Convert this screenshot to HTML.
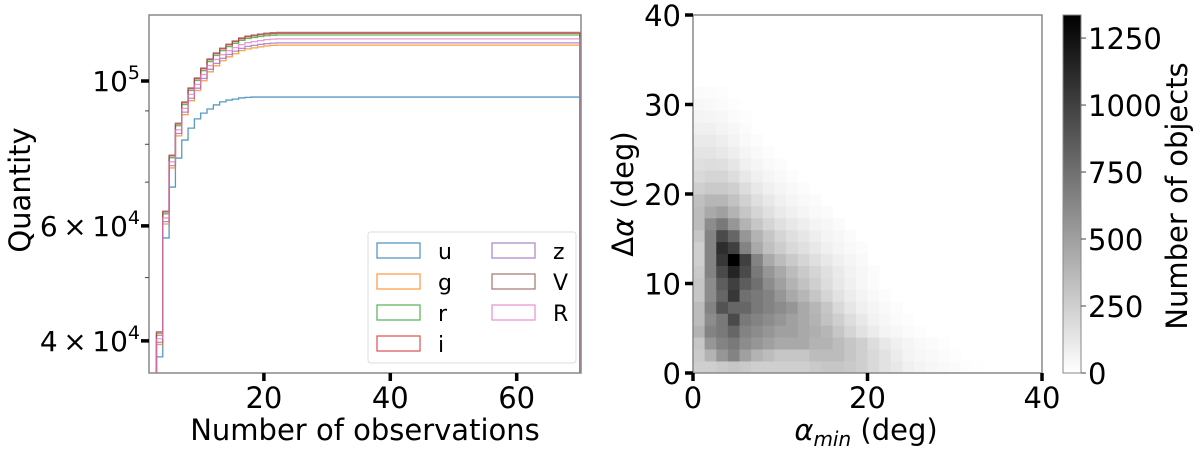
<!DOCTYPE html>
<html><head><meta charset="utf-8"><style>
html,body{margin:0;padding:0;background:#fff;width:1200px;height:451px;overflow:hidden}
svg{display:block;font-family:"DejaVu Sans","Liberation Sans",sans-serif;overflow:hidden}
</style></head><body>
<svg id="fig" width="1200" height="451" viewBox="0 0 1200 451">
<defs>
<clipPath id="clipL"><rect x="149" y="15" width="432" height="358"/></clipPath>
<linearGradient id="cbgrad" x1="0" y1="1" x2="0" y2="0"><stop offset="0" stop-color="#fff"/><stop offset="1" stop-color="#000"/></linearGradient>
</defs>
<g id="left">
<g id="hists" clip-path="url(#clipL)"></g>
<rect x="149" y="15" width="432" height="358" fill="none" stroke="#888" stroke-width="1.5"/>
<g id="lticks"></g>
<text x="30" y="190" font-size="29" text-anchor="middle" transform="rotate(-90 30 190)">Quantity</text>
<text x="365" y="440" font-size="29" text-anchor="middle">Number of observations</text>
<g>
<rect x="368" y="232" width="208" height="131" rx="3" fill="#fff" fill-opacity="0.8" stroke="#ddd" stroke-width="1"/>
<g id="legend"></g>
</g>
</g>
<g id="right">
<g id="cells"></g>
<rect x="693" y="15" width="349" height="358" fill="none" stroke="#888" stroke-width="1.5"/>
<g id="rticks"></g>
<text x="633" y="194" font-size="29" text-anchor="middle" transform="rotate(-90 633 194)">Δ<tspan font-style="italic">α</tspan> (deg)</text>
<text x="866" y="440" font-size="29" text-anchor="middle"><tspan font-style="italic">α</tspan><tspan font-style="italic" font-size="20" dy="6">min</tspan><tspan dy="-6"> (deg)</tspan></text>
<rect x="1063" y="15" width="18" height="358" fill="url(#cbgrad)" stroke="#888" stroke-width="1"/>
<g id="cbticks"></g>
<text x="1187" y="196" font-size="29" text-anchor="middle" transform="rotate(-90 1187 196)">Number of objects</text>
</g>
</svg>
<script>
const NS="http://www.w3.org/2000/svg";
// ---- left chart data (values in thousands; bins start at n=3, width 1) ----
const binStart=3;
const seriesNames=["u","g","r","i","z","V","R"];
const seriesColors=["#1f77b4","#ff7f0e","#2ca02c","#d62728","#9467bd","#8c564b","#e377c2"];
const serU=[37.8,57.5,68.8,76.2,81.2,84.7,87.5,89.3,90.6,91.9,92.9,93.5,93.8,94.2,94.4,94.5,94.5,94.5,94.5,94.5,94.5,94.5,94.5,94.5,94.5,94.5,94.5,94.5,94.5,94.5,94.5,94.5,94.5,94.5,94.5,94.5,94.5,94.5,94.5,94.5,94.5,94.5,94.5,94.5,94.5,94.5,94.5,94.5,94.5,94.5,94.5,94.5,94.5,94.5,94.5,94.5,94.5,94.5,94.5,94.5,94.5,94.5,94.5,94.5,94.5,94.5,94.5];
const serG=[39.5,60.4,73.6,82.4,88.8,93.3,96.7,100.1,103.3,105.5,107.4,108.9,110.1,111.3,112.0,112.4,112.8,113.2,113.4,113.5,113.5,113.5,113.5,113.5,113.5,113.5,113.5,113.5,113.5,113.5,113.5,113.5,113.5,113.5,113.5,113.5,113.5,113.5,113.5,113.5,113.5,113.5,113.5,113.5,113.5,113.5,113.5,113.5,113.5,113.5,113.5,113.5,113.5,113.5,113.5,113.5,113.5,113.5,113.5,113.5,113.5,113.5,113.5,113.5,113.5,113.5,113.5];
const serR=[40.8,62.6,76.3,85.4,92.0,96.7,100.2,103.7,107.1,109.4,111.3,112.9,114.2,115.4,116.2,116.6,117.0,117.3,117.5,117.6,117.6,117.6,117.6,117.6,117.6,117.6,117.6,117.6,117.6,117.6,117.6,117.6,117.6,117.6,117.6,117.6,117.6,117.6,117.6,117.6,117.6,117.6,117.6,117.6,117.6,117.6,117.6,117.6,117.6,117.6,117.6,117.6,117.6,117.6,117.6,117.6,117.6,117.6,117.6,117.6,117.6,117.6,117.6,117.6,117.6,117.6,117.6];
const serI=[41.1,63.0,76.8,85.9,92.6,97.3,100.8,104.4,107.8,110.1,112.0,113.6,114.9,116.1,116.9,117.3,117.7,118.0,118.2,118.3,118.3,118.3,118.3,118.3,118.3,118.3,118.3,118.3,118.3,118.3,118.3,118.3,118.3,118.3,118.3,118.3,118.3,118.3,118.3,118.3,118.3,118.3,118.3,118.3,118.3,118.3,118.3,118.3,118.3,118.3,118.3,118.3,118.3,118.3,118.3,118.3,118.3,118.3,118.3,118.3,118.3,118.3,118.3,118.3,118.3,118.3,118.3];
const serZ=[39.8,60.9,74.2,83.1,89.6,94.1,97.5,100.9,104.2,106.4,108.3,109.8,111.1,112.2,113.0,113.4,113.8,114.1,114.3,114.4,114.4,114.4,114.4,114.4,114.4,114.4,114.4,114.4,114.4,114.4,114.4,114.4,114.4,114.4,114.4,114.4,114.4,114.4,114.4,114.4,114.4,114.4,114.4,114.4,114.4,114.4,114.4,114.4,114.4,114.4,114.4,114.4,114.4,114.4,114.4,114.4,114.4,114.4,114.4,114.4,114.4,114.4,114.4,114.4,114.4,114.4,114.4];
const serV=[41.3,63.2,77.0,86.2,92.9,97.6,101.1,104.7,108.1,110.4,112.3,113.9,115.2,116.4,117.2,117.6,118.0,118.4,118.6,118.7,118.7,118.7,118.7,118.7,118.7,118.7,118.7,118.7,118.7,118.7,118.7,118.7,118.7,118.7,118.7,118.7,118.7,118.7,118.7,118.7,118.7,118.7,118.7,118.7,118.7,118.7,118.7,118.7,118.7,118.7,118.7,118.7,118.7,118.7,118.7,118.7,118.7,118.7,118.7,118.7,118.7,118.7,118.7,118.7,118.7,118.7,118.7];
const serRR=[40.3,61.7,75.2,84.2,90.8,95.4,98.8,102.3,105.6,107.9,109.7,111.3,112.5,113.7,114.5,114.9,115.3,115.7,115.9,116.0,116.0,116.0,116.0,116.0,116.0,116.0,116.0,116.0,116.0,116.0,116.0,116.0,116.0,116.0,116.0,116.0,116.0,116.0,116.0,116.0,116.0,116.0,116.0,116.0,116.0,116.0,116.0,116.0,116.0,116.0,116.0,116.0,116.0,116.0,116.0,116.0,116.0,116.0,116.0,116.0,116.0,116.0,116.0,116.0,116.0,116.0,116.0];
const xTicksL=[20,40,60];
const yMajorL=[{v:100,t:"10",e:"5",m:""},{v:60,t:"10",e:"4",m:"6\u2009×\u200910"},{v:40,t:"10",e:"4",m:"4\u2009×\u200910"}];
const yMinorL=[50,70,80,90];
// ---- right chart data: heatmap counts, rows from Δα=0 upward, cols from αmin=0 ----
const binDeg=40/30;
const heat=[
[250,250,280,300,280,250,250,250,250,250,280,300,300,280,250,200,150,120,80,60,40,30,20,10,5],
[280,400,550,650,500,400,350,300,300,300,350,350,350,300,250,200,150,100,60,40,30,20,10],
[300,550,650,700,600,550,500,450,450,450,400,400,350,300,250,180,120,80,50,30,20,10],
[400,650,700,800,650,600,550,500,500,450,420,380,300,220,150,100,60,40,20,10],
[350,600,700,950,700,650,600,550,500,450,400,320,250,180,120,70,40,20,10],
[350,650,900,800,800,700,650,600,550,450,380,300,200,130,80,50,30,15],
[300,600,800,1050,750,700,650,550,450,380,300,220,150,100,60,30,15],
[300,600,850,1000,850,750,600,500,400,320,250,180,120,80,40,20],
[280,650,950,1150,950,700,550,450,350,280,220,160,110,70,40,20],
[250,650,1050,1336,1000,650,450,350,280,220,170,120,80,50,30],
[250,650,1100,1000,650,450,330,260,200,160,120,80,50,30,15],
[300,650,950,800,550,400,300,220,170,130,90,60,40,20],
[350,600,700,550,400,300,220,160,120,90,60,40,20],
[350,450,500,400,300,220,160,110,80,50,30,20],
[330,380,380,320,240,170,120,80,50,30,20],
[250,280,280,250,180,120,80,50,30,15],
[200,220,220,180,120,80,50,30,15],
[170,180,170,130,80,50,30,15],
[140,140,120,90,50,30,15],
[110,110,90,60,30,15],
[80,80,60,40,20],
[60,50,40,20,10],
[40,30,20,10],
[20,15,10]];
const vmax=1336;
const xTicksR=[0,20,40];
const yTicksR=[0,10,20,30,40];
const cbTicks=[0,250,500,750,1000,1250];

function el(tag,attrs,parent){const e=document.createElementNS(NS,tag);for(const k in attrs)e.setAttribute(k,attrs[k]);parent.appendChild(e);return e;}
// left axes
const xL=v=>137.5+v*6.32;
const yL=v=>81-Math.log10(v/100)*653;
const allSeries=[serU,serG,serR,serI,serZ,serV,serRR];
const hg=document.getElementById('hists');
allSeries.forEach((s,i)=>{
  let d="M"+xL(binStart)+","+yL(1);
  s.forEach((v,j)=>{const y=yL(v);d+=" L"+xL(binStart+j)+","+y+" L"+xL(binStart+j+1)+","+y;});
  d+=" L"+xL(binStart+s.length)+","+yL(1);
  const p=el('path',{d:d,fill:"none",stroke:seriesColors[i],"stroke-width":1.3,"stroke-opacity":0.75},hg);
  
  
});
const lt=document.getElementById('lticks');
xTicksL.forEach(v=>{
  el('line',{x1:xL(v),x2:xL(v),y1:373,y2:381,stroke:"#000","stroke-width":3.5},lt);
  const t=el('text',{x:xL(v),y:408,"font-size":29,"text-anchor":"middle"},lt);t.textContent=v;
  
  
});
yMajorL.forEach(o=>{
  const y=yL(o.v);
  el('line',{x1:141,x2:149,y1:y,y2:y,stroke:"#000","stroke-width":3.5},lt);
  const t=el('text',{x:140,y:y+10,"font-size":28,"text-anchor":"end"},lt);
  
  
  const a=document.createElementNS(NS,'tspan');a.textContent=o.m?o.m:o.t;t.appendChild(a);
  const b=document.createElementNS(NS,'tspan');b.setAttribute('dy','-12');b.setAttribute('font-size','19');b.textContent=o.e;t.appendChild(b);
});
yMinorL.forEach(v=>{const y=yL(v);el('line',{x1:145,x2:149,y1:y,y2:y,stroke:"#444","stroke-width":1},lt);});
// legend
const lg=document.getElementById('legend');
seriesNames.forEach((n,i)=>{
  const col=i<4?0:1,row=i<4?i:i-4;
  const x=377+col*115,y=243+row*31;
  const r=el('rect',{x:x,y:y,width:43,height:15,fill:"none",stroke:seriesColors[i],"stroke-width":1.3,"stroke-opacity":0.75},lg);
  
  
  const t=el('text',{x:x+61,y:y+16,"font-size":22},lg);t.textContent=n;
  
  
});
// right axes
const xR=v=>693+v*8.725;
const yR=v=>373-v*8.95;
const cg=document.getElementById('cells');
heat.forEach((row,ri)=>{row.forEach((v,ci)=>{
  const g=Math.round(255*(1-Math.min(v,vmax)/vmax));
  const x0=xR(ci*binDeg),x1=xR((ci+1)*binDeg),y0=yR((ri+1)*binDeg),y1=yR(ri*binDeg);
  const r=el('rect',{x:x0,y:y0,width:x1-x0+0.4,height:y1-y0+0.4,fill:`rgb(${g},${g},${g})`},cg);
  
  
});});
const rt=document.getElementById('rticks');
xTicksR.forEach(v=>{
  el('line',{x1:xR(v),x2:xR(v),y1:373,y2:381,stroke:"#000","stroke-width":3.5},rt);
  const t=el('text',{x:xR(v),y:408,"font-size":29,"text-anchor":"middle"},rt);t.textContent=v;
  
  
});
yTicksR.forEach(v=>{
  el('line',{x1:685,x2:693,y1:yR(v),y2:yR(v),stroke:"#000","stroke-width":3.5},rt);
  const t=el('text',{x:681,y:yR(v)+11,"font-size":29,"text-anchor":"end"},rt);t.textContent=v;
  
  
});
const cb=document.getElementById('cbticks');
const yC=v=>373-v*(358/vmax);
cbTicks.forEach(v=>{
  el('line',{x1:1081,x2:1086,y1:yC(v),y2:yC(v),stroke:"#444","stroke-width":1},cb);
  const t=el('text',{x:1088,y:yC(v)+11,"font-size":29},cb);t.textContent=v;
  
  
});
</script>
</body></html>
